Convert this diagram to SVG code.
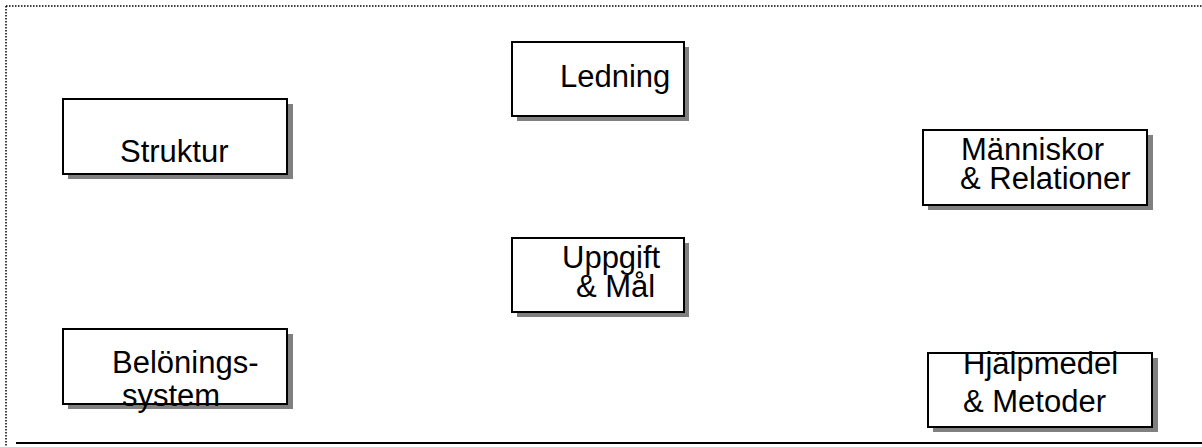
<svg xmlns="http://www.w3.org/2000/svg" width="1202" height="447" viewBox="0 0 1202 447">
  <style>
    .shadow { fill: #808080; }
    .box { fill: #ffffff; stroke: #000000; stroke-width: 2; }
    .label { font-family: "Liberation Sans", Arial, sans-serif; font-size: 31px; fill: #000000; }
    .frame { fill: none; stroke: #000000; stroke-width: 1.5; stroke-dasharray: 1.5 1.5; }
  </style>
  <rect width="1202" height="447" fill="#ffffff"/>

  <!-- dotted frame (top and left edges) -->
  <path class="frame" d="M6 6 H1202 M6 6 V447"/>
  <!-- solid rule along the bottom -->
  <line x1="16" y1="443" x2="1202" y2="443" stroke="#000000" stroke-width="2"/>

  <g id="struktur">
    <rect class="shadow" x="68" y="104" width="225" height="75"/>
    <rect class="box" x="63" y="99" width="224" height="75"/>
    <text class="label" x="120" y="162">Struktur</text>
  </g>

  <g id="ledning">
    <rect class="shadow" x="517" y="47" width="172" height="74"/>
    <rect class="box" x="512" y="42" width="172" height="74"/>
    <text class="label" x="560" y="87">Ledning</text>
  </g>

  <g id="manniskor">
    <rect class="shadow" x="928" y="135" width="225" height="75"/>
    <rect class="box" x="923" y="130" width="224" height="75"/>
    <text class="label" x="961" y="160">Människor</text>
    <text class="label" x="960" y="189">&amp; Relationer</text>
  </g>

  <g id="uppgift">
    <rect class="shadow" x="517" y="243" width="172" height="74"/>
    <rect class="box" x="512" y="238" width="172" height="74"/>
    <text class="label" x="562" y="268">Uppgift</text>
    <text class="label" x="576" y="297">&amp; Mål</text>
  </g>

  <g id="beloningssystem">
    <rect class="shadow" x="68" y="334" width="225" height="75"/>
    <rect class="box" x="63" y="329" width="224" height="75"/>
    <text class="label" x="112" y="373">Belönings-</text>
    <text class="label" x="122" y="406">system</text>
  </g>

  <g id="hjalpmedel">
    <rect class="shadow" x="933" y="358" width="225" height="74"/>
    <rect class="box" x="928" y="353" width="224" height="74"/>
    <text class="label" x="963" y="374">Hjälpmedel</text>
    <text class="label" x="963" y="412">&amp; Metoder</text>
  </g>

  <g id="connectors"></g>
</svg>
